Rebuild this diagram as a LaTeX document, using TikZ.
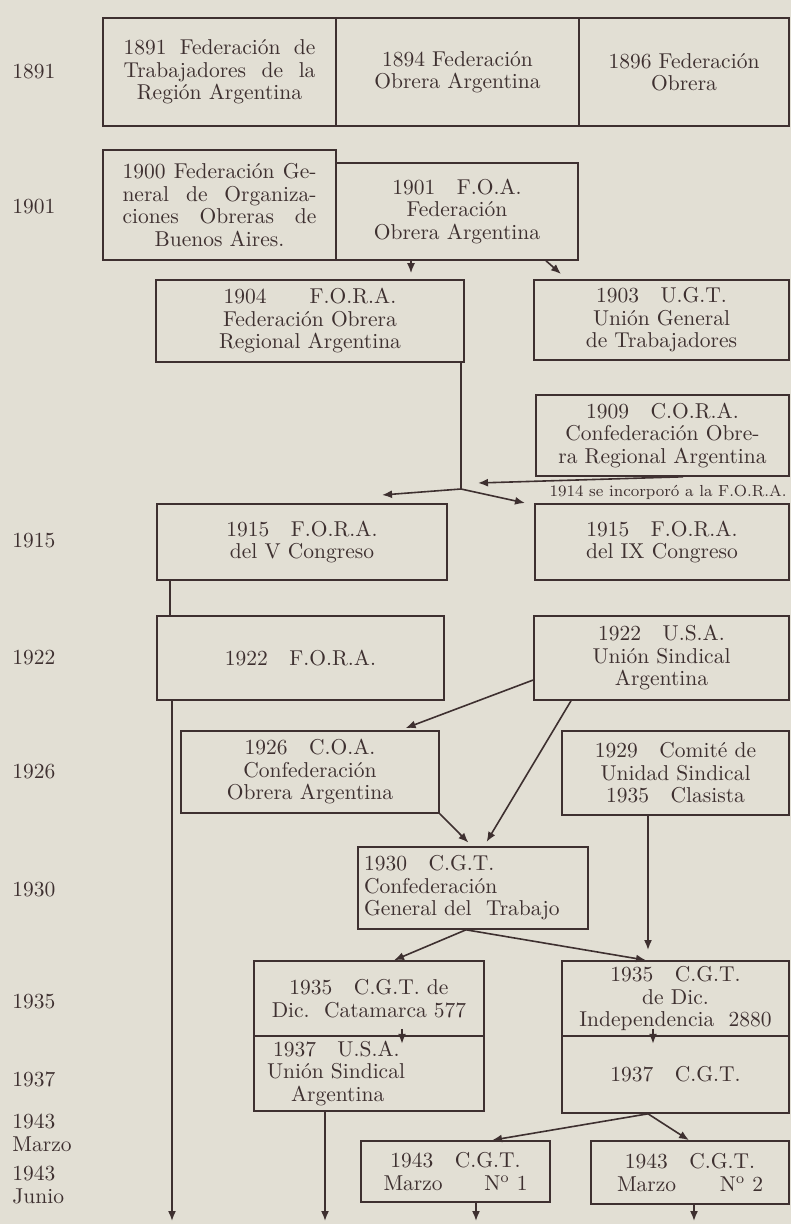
\documentclass[tikz,border=0pt]{standalone}
\usepackage{tikz}
\usetikzlibrary{arrows.meta}
\definecolor{paper}{RGB}{226,223,212}
\definecolor{ink}{RGB}{62,48,48}

\begin{document}
\begin{tikzpicture}[x=0.5pt,y=-0.5pt,
  org/.style={draw=ink, line width=0.8pt, inner sep=0pt, align=center, text=ink,
    font=\fontsize{10.75}{11.25}\selectfont},
  yr/.style={anchor=west, align=left, inner sep=0pt, text=ink, font=\fontsize{10.75}{11.25}\selectfont},
  lnk/.style={draw=ink, line width=0.8pt, -{Latex[length=5pt,width=4pt]}},
  seg/.style={draw=ink, line width=0.8pt}]
\fill[paper] (0,0) rectangle (791,1224);
\useasboundingbox (0,0) rectangle (791,1224);

% years
\node[yr] (y1891) at (12,72) {1891};
\node[yr] (y1901) at (12,207) {1901};
\node[yr] (y1915) at (12,541) {1915};
\node[yr] (y1922) at (12,658) {1922};
\node[yr] (y1926) at (12,772) {1926};
\node[yr] (y1930) at (12,890) {1930};
\node[yr] (y1935) at (12,1002) {1935};
\node[yr] (y1937) at (12,1079) {1937};
\node[yr] (y1943m) at (12,1133) {1943\\Marzo};
\node[yr] (y1943j) at (12,1185) {1943\\Junio};

% boxes
\node[org, minimum width=116.5pt, minimum height=54pt] (n1891) at (219.5,72)
  {\makebox[96pt][s]{1891 Federación de}\\\makebox[96pt][s]{Trabajadores de la}\\Región Argentina};
\node[org, minimum width=121.5pt, minimum height=54pt] (n1894) at (457.5,72)
  {1894 Federación\\Obrera Argentina};
\node[org, minimum width=105pt, minimum height=54pt] (n1896) at (684,72)
  {1896 Federación\\Obrera};
\node[org, minimum width=116.5pt, minimum height=55pt] (n1900) at (219.5,205)
  {\makebox[97pt][s]{1900 Federación Ge-}\\\makebox[97pt][s]{neral de Organiza-}\\\makebox[97pt][s]{ciones Obreras de}\\Buenos Aires.};
\node[org, minimum width=121pt, minimum height=48.5pt] (n1901) at (457,211.5)
  {1901\quad F.O.A.\\Federación\\Obrera Argentina};
\node[org, minimum width=154pt, minimum height=41pt] (n1904) at (310,321)
  {1904\qquad F.O.R.A.\\Federación Obrera\\Regional Argentina};
\node[org, minimum width=127.5pt, minimum height=40pt] (n1903) at (661.5,320)
  {1903\quad U.G.T.\\Unión General\\de Trabajadores};
\node[org, minimum width=126.5pt, minimum height=40.5pt] (n1909) at (662.5,435.5)
  {1909\quad C.O.R.A.\\Confederación Obre-\\ra Regional Argentina};
\node[org, minimum width=145pt, minimum height=38pt] (n1915a) at (302,542)
  {1915\quad F.O.R.A.\\del V Congreso};
\node[org, minimum width=127pt, minimum height=38pt] (n1915b) at (662,542)
  {1915\quad F.O.R.A.\\del IX Congreso};
\node[org, minimum width=143.5pt, minimum height=42pt] (n1922a) at (300.5,658)
  {1922\quad F.O.R.A.};
\node[org, minimum width=127.5pt, minimum height=42pt] (n1922b) at (661.5,658)
  {1922\quad U.S.A.\\Unión Sindical\\Argentina};
\node[org, minimum width=129pt, minimum height=41pt] (n1926) at (310,772)
  {1926\quad C.O.A.\\Confederación\\Obrera Argentina};
\node[org, minimum width=113.5pt, minimum height=42pt] (n1929) at (675.5,773)
  {1929\quad Comité de\\Unidad Sindical\\1935\quad Clasista};
\node[org, minimum width=115pt, minimum height=41pt, align=left, text width=109pt] (n1930) at (473,888)
  {1930\quad C.G.T.\\Confederación\\General del\ \ Trabajo};
\node[org, minimum width=115pt, minimum height=37.5pt] (n1935a) at (369,998.5)
  {1935\quad C.G.T. de\\Dic.\ \ Catamarca 577};
\node[org, minimum width=115pt, minimum height=37.5pt, align=left, text width=102pt] (n1937a) at (369,1073.5)
  {\hspace*{3pt}1937\quad U.S.A.\\Unión Sindical\\\hspace*{12pt}Argentina};
\node[org, minimum width=113.5pt, minimum height=37.5pt] (n1935b) at (675.5,998.5)
  {1935\quad C.G.T.\\de Dic.\\Independencia\ \ 2880};
\node[org, minimum width=113.5pt, minimum height=38.5pt] (n1937b) at (675.5,1074.5)
  {1937\quad C.G.T.};
\node[org, minimum width=94.5pt, minimum height=30.5pt] (n1943a) at (455.5,1171.5)
  {1943\quad C.G.T.\\\makebox[72pt]{Marzo\hfill N\textsuperscript{o} 1}};
\node[org, minimum width=99pt, minimum height=31.5pt] (n1943b) at (690,1172.5)
  {1943\quad C.G.T.\\\makebox[73pt]{Marzo\hfill N\textsuperscript{o} 2}};
\node[text=ink, font=\fontsize{8}{9}\selectfont, anchor=east, inner sep=0pt] (nota) at (787,492)
  {1914 se incorporó a la F.O.R.A.};

% guides and free ends
\coordinate (xa) at (411,0);
\coordinate (xb) at (461,0);
\coordinate (xc) at (683,0);
\coordinate (xd) at (170,0);
\coordinate (xe) at (172,0);
\coordinate (xf) at (400,0);
\coordinate (xg) at (571,0);
\coordinate (xh) at (484,0);
\coordinate (xi) at (472,0);
\coordinate (xj) at (648,0);
\coordinate (xk) at (466,0);
\coordinate (xl) at (394,0);
\coordinate (xm) at (646,0);
\coordinate (xn) at (402,0);
\coordinate (xo) at (653,0);
\coordinate (xp) at (492,0);
\coordinate (xq) at (689,0);
\coordinate (xr) at (325,0);
\coordinate (xs) at (476,0);
\coordinate (xt) at (694,0);
\coordinate (xu) at (546,0);
\coordinate (ya) at (0,680);
\coordinate (b1) at (461,489);
\coordinate (e1) at (382,495);
\coordinate (e2) at (525,503);
\coordinate (e3) at (478,483);
\coordinate (e4) at (648,950);
\coordinate (e5) at (561,274);
\coordinate (f1) at (172,1221);
\coordinate (f2) at (325,1221);
\coordinate (f3) at (476,1221);
\coordinate (f4) at (694,1221);

% links
\draw[lnk, shorten >=3pt] (n1901.south -| xa) -- (n1904.north -| xa);
\draw[lnk] (n1901.south -| xu) -- (e5);
\draw[seg] (n1904.south -| xb) -- (b1);
\draw[lnk] (b1) -- (e1);
\draw[lnk] (b1) -- (e2);
\draw[lnk] (n1909.south -| xc) -- (e3);
\draw[seg] (n1915a.south -| xd) -- (n1922a.north -| xd);
\draw[lnk] (n1922a.south -| xe) -- (f1);
\draw[lnk, shorten >=3pt] (n1922b.west |- ya) -- (n1926.north -| xf);
\draw[lnk, shorten >=2.5pt] (n1922b.south -| xg) -- (n1930.north -| xh);
\draw[lnk, shorten >=2.5pt] (n1926.south east) -- (n1930.north -| xi);
\draw[lnk] (n1929.south -| xj) -- (e4);
\draw[lnk] (n1930.south -| xk) -- (n1935a.north -| xl);
\draw[lnk] (n1930.south -| xk) -- (n1935b.north -| xm);
\draw[lnk] (n1935a.south -| xn) ++(0,-8) -- ++(0,15);
\draw[lnk] (n1935b.south -| xo) ++(0,-8) -- ++(0,15);
\draw[lnk] (n1937b.south -| xj) -- (n1943a.north -| xp);
\draw[lnk] (n1937b.south -| xj) -- (n1943b.north -| xq);
\draw[lnk] (n1937a.south -| xr) -- (f2);
\draw[lnk] (n1943a.south -| xs) -- (f3);
\draw[lnk] (n1943b.south -| xt) -- (f4);
\end{tikzpicture}
\end{document}
